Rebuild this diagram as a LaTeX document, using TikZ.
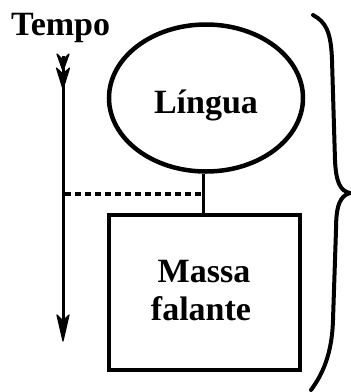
\documentclass[tikz,border=0pt]{standalone}
\usepackage{fontspec}
\setmainfont{Liberation Serif}
\usetikzlibrary{shapes.geometric}
\begin{document}
\begin{tikzpicture}[x=1pt,y=-1pt,
  word/.style={inner sep=0pt,font=\bfseries\fontsize{34}{38}\selectfont},
  langue/.style={draw,ellipse,line width=4.5pt,inner sep=0pt,minimum width=194pt,minimum height=147pt},
  mass/.style={draw,rectangle,line width=4.5pt,inner sep=0pt,minimum width=191pt,minimum height=155pt},
  link/.style={line width=3pt},
  time/.style={line width=3pt},
  barb/.style={fill=black,draw=black,line width=1.2pt,line join=round},
  bracestroke/.style={line width=4pt,line cap=round,line join=round}]
\useasboundingbox (0,0) rectangle (351,392);

% time axis with its label
\node[word,anchor=base west] (tempo) at (11,35) {Tempo};
\coordinate (ttop) at (63,56);
\coordinate (tbot) at (63,341);
\draw[time] (ttop) -- (63,330);
% feathered tail pointing downwards
\fill[barb] (63,71) -- (57,54) -- (63,60) -- (69,54) -- cycle;
\fill[barb] (63,89) -- (56.5,68) -- (63,74) -- (69.5,68) -- cycle;
% arrow head at the end of the axis
\fill[barb] (tbot) -- (57,315) -- (63,321) -- (69,315) -- cycle;

% the two units
\node[langue] (lingua) at (206,98) {};
\node[word,anchor=base] (linguatext) at (206,113) {Língua};
\node[mass] (massa) at (204.5,292.5) {};
\node[word,anchor=base] (massatext) at (204,282) {Massa};
\node[word,anchor=base] (falantetext) at (201,320) {falante};

% link between them and the dashed reference to the time axis
\coordinate (join) at (203,194);
\coordinate (taxis) at (65,194);
\draw[link] (lingua.south -| join) -- (massa.north -| join);
\draw[link,line width=3.5pt,dash pattern=on 6pt off 4pt] (taxis) -- (join);

% right brace
\coordinate (btop) at (313,15);
\coordinate (btip) at (350,193);
\coordinate (bbot) at (311,390);
\draw[bracestroke] (btop) .. controls (326,22) and (331,32) .. (332,60)
  -- (335,160) .. controls (336,182) and (340,191) .. (btip)
  .. controls (340,196) and (336,205) .. (336,230)
  -- (333,320) .. controls (332,355) and (322,375) .. (bbot);
\end{tikzpicture}
\end{document}
